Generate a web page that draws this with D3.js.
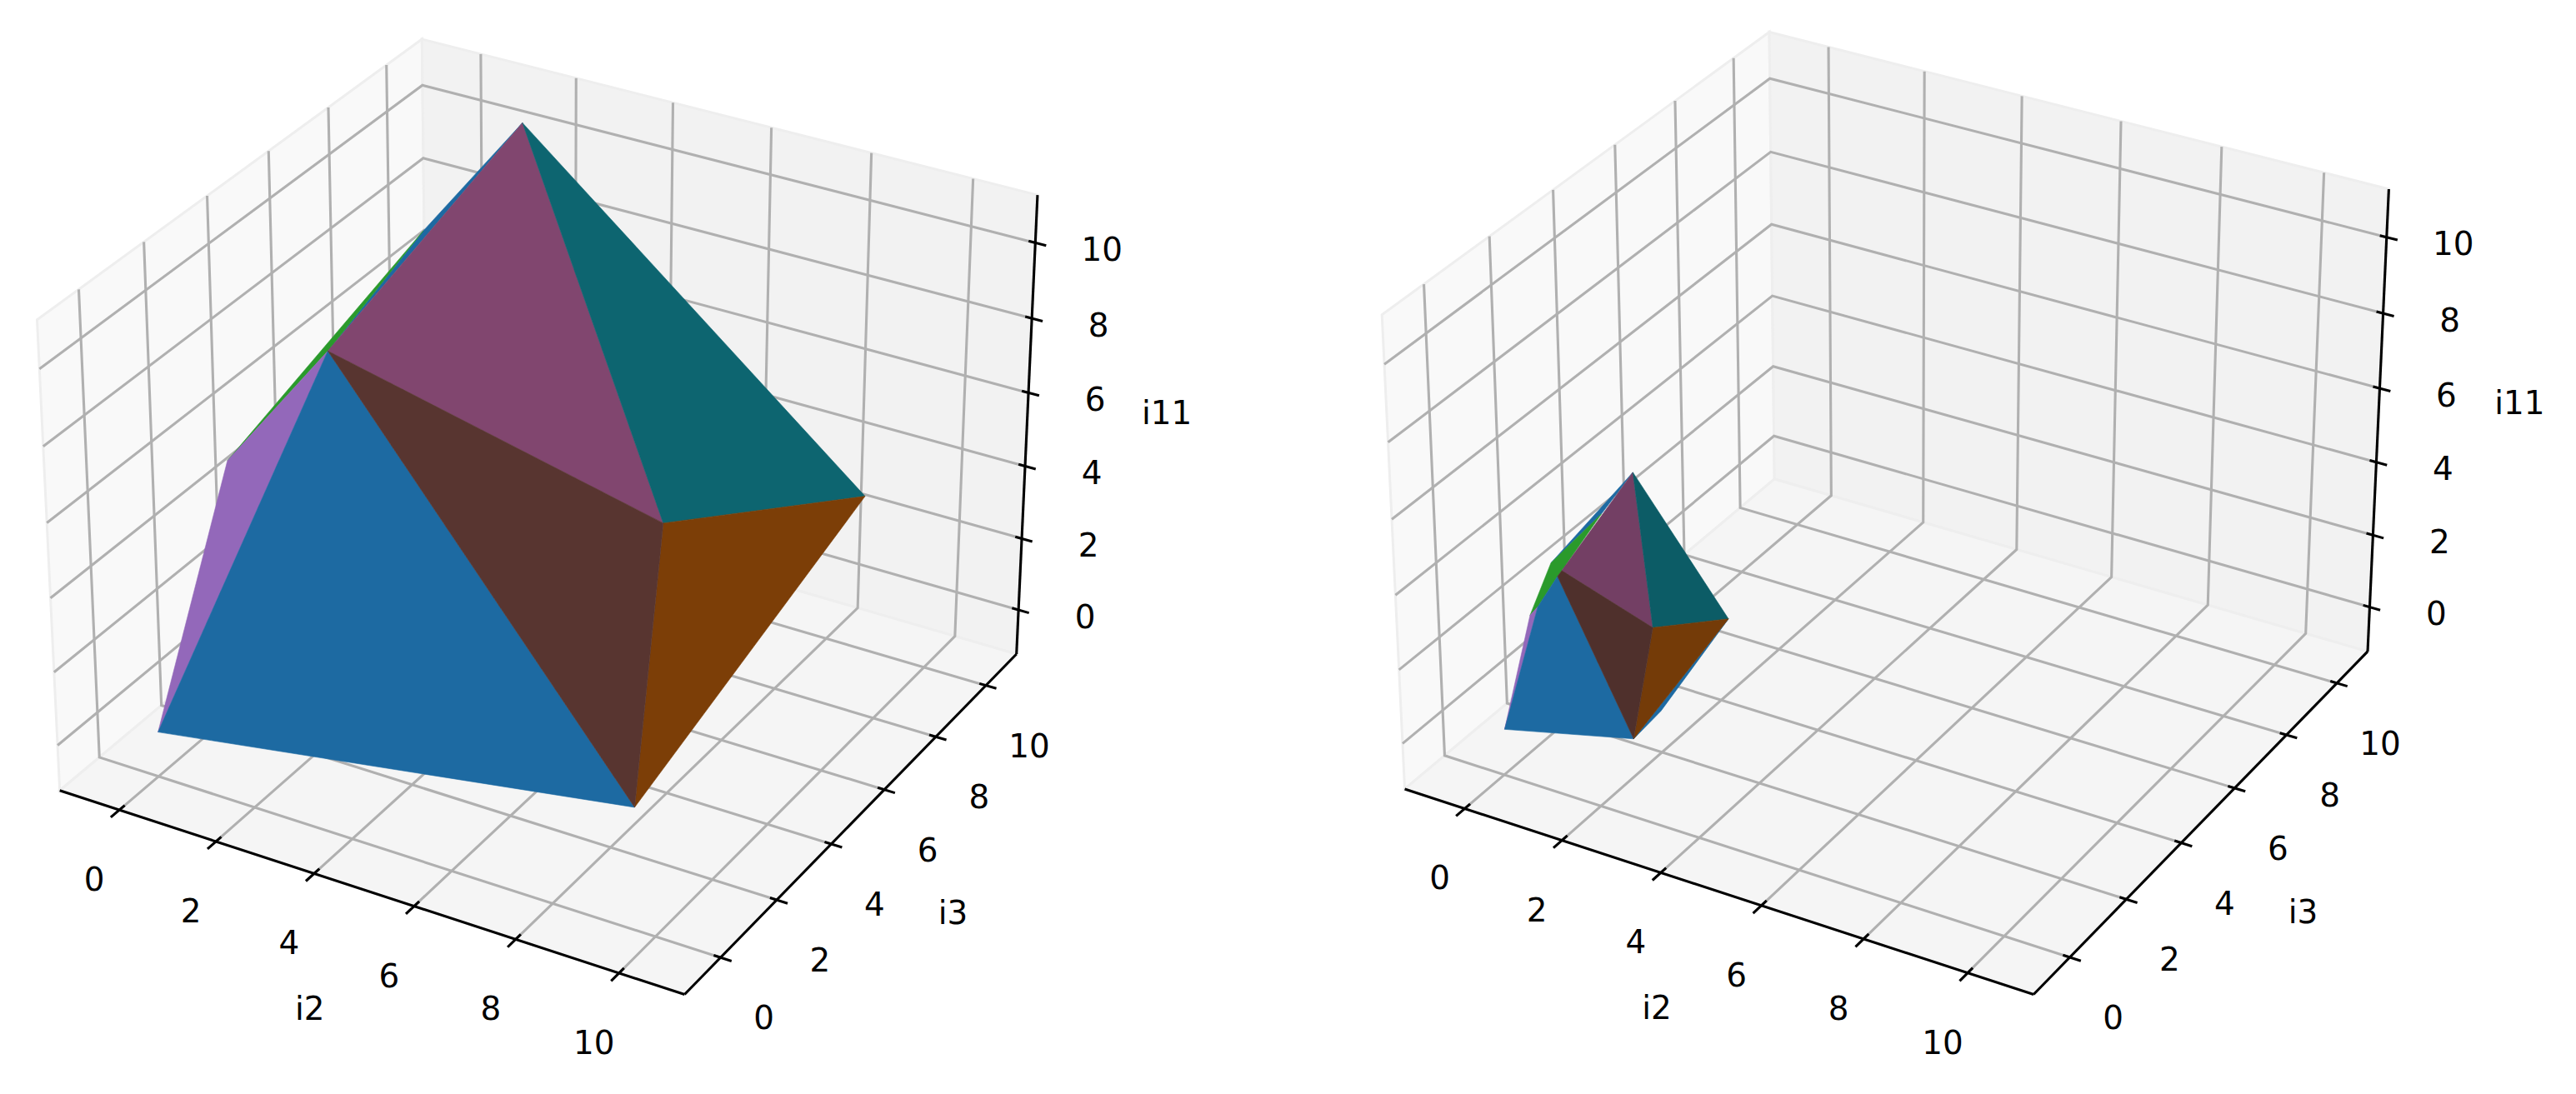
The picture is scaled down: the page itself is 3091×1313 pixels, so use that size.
<!DOCTYPE html>
<html>
<head>
<meta charset="utf-8">
<script src="https://cdn.jsdelivr.net/npm/d3@7"></script>
<style>
    html, body { margin: 0; padding: 0; background: #fff; }
    text { font-family: "DejaVu Sans"; font-size: 38.9px; fill: #000; text-anchor: middle; }
</style>
</head>
<body>
<svg id="chart" width="3091" height="1313"></svg>
<script>
var TICKS = [0, 2, 4, 6, 8, 10];
var AXIS_NAMES = ['i2', 'i3', 'i11'];
var LIM = [-1, 11];

// polytope corners as [i2, i3, i11]
var leftPoints = {
    A: [1.12, 10.83, 10], B: [8.69, 10.03, 3], C: [7.87, 4, 6], D: [2.62, 1.71, 10],
    E: [0.03, -0.01, 0], F: [9.56, 0.03, 2], G: [0.99, 1, 7], P: [1.75, 6.29, 10]
};
var rightPoints = {
    A: [1.44, 2.15, 6], B: [2.78, 3.03, 2], C: [2.46, 1.08, 3], D: [0.81, 0.66, 4],
    M: [0.91, 0.65, 4.2], E: [0.03, 0.02, 0], F: [2.14, 0.88, 0], H: [0.51, 0.47, 3.2],
    Q: [0.75, 0.56, 4.4], R: [0.41, 0.37, 3], S: [1.38, 1.22, 5.5], T: [2.39, 1.39, 0.5]
};

// back to front, painted in this order
var leftFaces = ['PAD', 'GPD', 'EGD', 'EFD', 'ACD', 'ABC', 'CBF', 'DCF'];
var leftColors = ['#1d6aa2', '#2a9a2b', '#9368ba', '#1d6aa2', '#81466f', '#0d6570', '#7c3e07', '#583530'];
var rightFaces = ['AQS', 'BTF', 'QRHDMS', 'ERH', 'EFDH', 'ACM', 'ABC', 'CBF', 'DMCF'];
var rightColors = ['#1d6aa2', '#1d6aa2', '#2a9a2b', '#9368ba', '#1d6aa2', '#733f64', '#0c5c66', '#743b08', '#4f302c'];

// same view as a default mplot3d axes
var EDGE = 0.25;
var elev = 30 * Math.PI / 180, azim = -60 * Math.PI / 180;
var boxScale = 1.8294640721620434 / Math.sqrt(41);
var box = [4 * boxScale, 4 * boxScale, 3 * boxScale];
var toBox = d3.scaleLinear().domain(LIM).range([0, 1]);
var w = [Math.cos(elev) * Math.cos(azim), Math.cos(elev) * Math.sin(azim), Math.sin(elev)];
var u = [-w[1], w[0], 0];
var uLen = Math.hypot(u[0], u[1]);
u = [u[0] / uLen, u[1] / uLen, 0];
var v = [w[1] * u[2] - w[2] * u[1], w[2] * u[0] - w[0] * u[2], w[0] * u[1] - w[1] * u[0]];
var eye = box.map(function(b, i) { return b / 2 + 10 * w[i]; });

function dot(a, b) { return a[0] * b[0] + a[1] * b[1] + a[2] * b[2]; }

function project(p) {
    var d = p.map(function(c, i) { return toBox(c) * box[i] - eye[i]; });
    var zv = -dot(w, d);
    return [dot(u, d) / zv, dot(v, d) / zv];
}

var lo = LIM[0] - EDGE, hi = LIM[1] + EDGE;
var svg = d3.select('#chart');

function drawPanel(frame, points, faces, colors) {
    var sx = d3.scaleLinear()
        .domain([project([lo, lo, lo])[0], project([hi, hi, lo])[0]])
        .range(frame.xRange);
    var sy = d3.scaleLinear()
        .domain([project([lo, hi, hi])[1], project([hi, lo, lo])[1]])
        .range(frame.yRange);
    var toPx = function(p) {
        var q = project(p);
        return [sx(q[0]), sy(q[1])];
    };
    var line = d3.line().x(function(p) { return toPx(p)[0]; }).y(function(p) { return toPx(p)[1]; });
    var g = svg.append('g');

    var panes = [
        { fill: '#f9f9f9', pts: [[lo, lo, lo], [lo, hi, lo], [lo, hi, hi], [lo, lo, hi]] },
        { fill: '#f2f2f2', pts: [[lo, hi, lo], [hi, hi, lo], [hi, hi, hi], [lo, hi, hi]] },
        { fill: '#f5f5f5', pts: [[lo, lo, lo], [hi, lo, lo], [hi, hi, lo], [lo, hi, lo]] }
    ];
    g.selectAll('.pane').data(panes).enter().append('path')
        .attr('class', 'pane')
        .attr('d', function(d) { return line(d.pts) + 'Z'; })
        .attr('fill', function(d) { return d.fill; })
        .attr('stroke', '#eeeeee')
        .attr('stroke-width', 3);

    var grid = [];
    TICKS.forEach(function(t) {
        grid.push([[t, lo, lo], [t, hi, lo], [t, hi, hi]]);
        grid.push([[hi, t, lo], [lo, t, lo], [lo, t, hi]]);
        grid.push([[lo, lo, t], [lo, hi, t], [hi, hi, t]]);
    });
    g.selectAll('.grid').data(grid).enter().append('path')
        .attr('class', 'grid')
        .attr('d', line)
        .attr('fill', 'none')
        .attr('stroke', '#b0b0b0')
        .attr('stroke-width', 3.1);

    var axes = [
        [[lo, lo, lo], [hi, lo, lo]],
        [[hi, lo, lo], [hi, hi, lo]],
        [[hi, hi, lo], [hi, hi, hi]]
    ];
    g.selectAll('.axis').data(axes).enter().append('path')
        .attr('class', 'axis')
        .attr('d', line)
        .attr('fill', 'none')
        .attr('stroke', '#000')
        .attr('stroke-width', 3.1);

    var tickMarks = [];
    var labels = [];
    TICKS.forEach(function(t) {
        tickMarks.push([[t, lo + 0.17, lo], [t, lo - 0.27, lo]]);
        tickMarks.push([[hi - 0.13, t, lo], [hi + 0.21, t, lo]]);
        tickMarks.push([[hi - 0.13, hi, t], [hi + 0.21, hi, t]]);
        labels.push({ at: [t, lo, lo], dx: -30, dy: 83, text: t });
        labels.push({ at: [hi, t, lo], dx: 52, dy: 72, text: t });
        labels.push({ at: [hi, hi, t], dx: 80, dy: 7.5, text: t });
    });
    g.selectAll('.tick').data(tickMarks).enter().append('path')
        .attr('class', 'tick')
        .attr('d', line)
        .attr('fill', 'none')
        .attr('stroke', '#000')
        .attr('stroke-width', 3.1);

    labels.push({ at: [5, lo, lo], dx: -65, dy: 142, text: AXIS_NAMES[0] });
    labels.push({ at: [hi, 5, lo], dx: 114, dy: 115, text: AXIS_NAMES[1] });
    labels.push({ at: [hi, hi, 5], dx: frame.zLabelDx, dy: frame.zLabelDy, text: AXIS_NAMES[2] });
    g.selectAll('text').data(labels).enter().append('text')
        .attr('x', function(d) { return toPx(d.at)[0] + d.dx; })
        .attr('y', function(d) { return toPx(d.at)[1] + d.dy; })
        .attr('dy', '0.36em')
        .text(function(d) { return d.text; });

    g.selectAll('.face').data(faces).enter().append('path')
        .attr('class', 'face')
        .attr('d', function(d) { return line(d.split('').map(function(k) { return points[k]; })) + 'Z'; })
        .attr('fill', function(d, i) { return colors[i]; })
        .attr('stroke', function(d, i) { return colors[i]; })
        .attr('stroke-width', 0.6);
}

drawPanel({ xRange: [71.7, 1219.7], yRange: [47, 1193.5], zLabelDx: 168, zLabelDy: -21 }, leftPoints, leftFaces, leftColors);
drawPanel({ xRange: [1685.6, 2841], yRange: [38.5, 1193.5], zLabelDx: 170, zLabelDy: -28 }, rightPoints, rightFaces, rightColors);
</script>
</body>
</html>
